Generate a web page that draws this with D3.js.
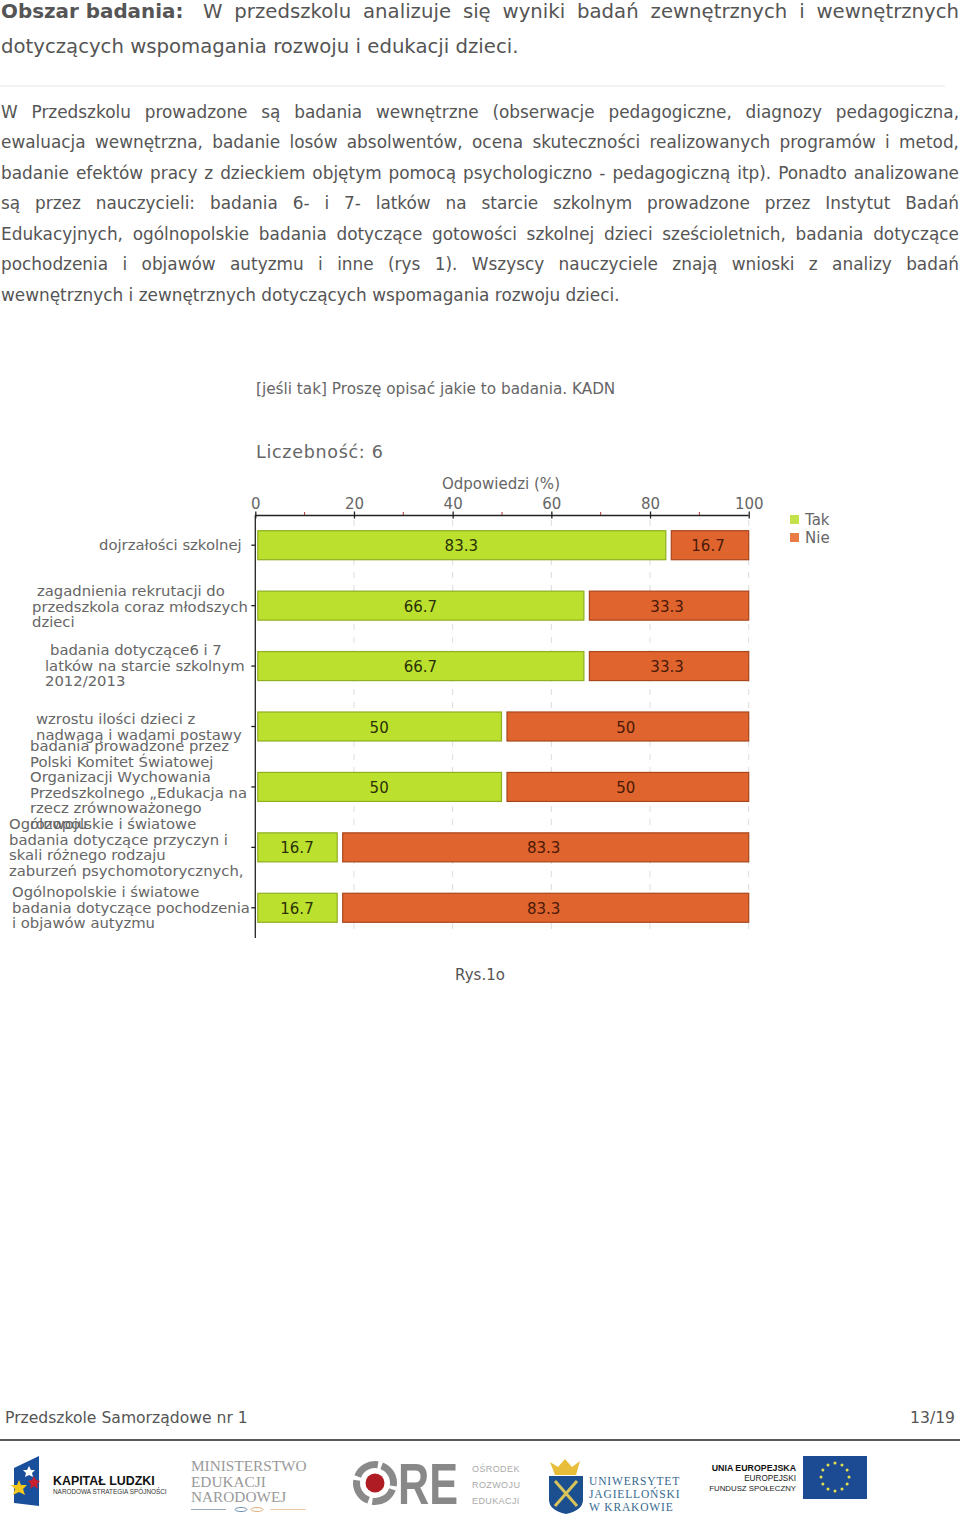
<!DOCTYPE html>
<html><head><meta charset="utf-8">
<script src="https://cdnjs.cloudflare.com/ajax/libs/d3/7.8.5/d3.min.js"></script>
<style>html,body{margin:0;padding:0;background:#fff;overflow:hidden}svg{display:block}text{font-family:"DejaVu Sans",sans-serif}</style>
</head><body><svg id="c" width="960" height="1528"></svg>
<script>
const categories=["dojrzałości szkolnej","zagadnienia rekrutacji do przedszkola","badania dotyczące 6 i 7 latków","wzrostu ilości dzieci","Polski Komitet Światowej","przyczyn zaburzeń","pochodzenia i objawów autyzmu"];
const takValues=[83.3,66.7,66.7,50,50,16.7,16.7];
const nieValues=[16.7,33.3,33.3,50,50,83.3,83.3];
const seriesNames=["Tak","Nie"];
const majorTicks=[0,20,40,60,80,100];
const minorTicks=[10,30,50,70,90];
const labelLines=[
 [["dojrzałości szkolnej",99]],
 [["zagadnienia rekrutacji do",37],["przedszkola coraz młodszych",32],["dzieci",32]],
 [["badania dotyczące6 i 7",50],["latków na starcie szkolnym",45],["2012/2013",45]],
 [["wzrostu ilości dzieci z",36],["nadwagą i wadami postawy",36]],
 [["badania prowadzone przez",30],["Polski Komitet Światowej",30],["Organizacji Wychowania",30],["Przedszkolnego „Edukacja na",30],["rzecz zrównoważonego",30],["rozwoju",30]],
 [["Ogólnopolskie i światowe",9],["badania dotyczące przyczyn i",9],["skali różnego rodzaju",9],["zaburzeń psychomotorycznych,",9]],
 [["Ogólnopolskie i światowe",12],["badania dotyczące pochodzenia",12],["i objawów autyzmu",12]]
];
const labelTop=[550,596,655,724,751,829,897];
const headerLines=["W przedszkolu analizuje się wyniki badań zewnętrznych i wewnętrznych"];
const paragraphLines=[
 "W Przedszkolu prowadzone są badania wewnętrzne (obserwacje pedagogiczne, diagnozy pedagogiczna,",
 "ewaluacja wewnętrzna, badanie losów absolwentów, ocena skuteczności realizowanych programów i metod,",
 "badanie efektów pracy z dzieckiem objętym pomocą psychologiczno - pedagogiczną itp). Ponadto analizowane",
 "są przez nauczycieli: badania 6- i 7- latków na starcie szkolnym prowadzone przez Instytut Badań",
 "Edukacyjnych, ogólnopolskie badania dotyczące gotowości szkolnej dzieci sześcioletnich, badania dotyczące",
 "pochodzenia i objawów autyzmu i inne (rys 1). Wszyscy nauczyciele znają wnioski z analizy badań",
 "wewnętrznych i zewnętrznych dotyczących wspomagania rozwoju dzieci."];
const paragraphY=[118,148,179,209,240,270,301];

const svg=d3.select("#c");
const TXT="#555";
function justified(s,x0,x1,y,size,col){
  const t=svg.append("text").attr("x",x0).attr("y",y).attr("font-size",size).attr("fill",col).text(s);
  if(x1){const w=t.node().getComputedTextLength(),n=s.split(" ").length-1;t.style("word-spacing",((x1-x0-w)/n)+"px");}
  return t;
}
// header
svg.append("text").attr("x",1).attr("y",18).attr("font-size",19.9).attr("font-weight","bold").attr("fill",TXT).text("Obszar badania:");
justified(headerLines[0],203,959,18,19.7,TXT);
justified("dotyczących wspomagania rozwoju i edukacji dzieci.",1,null,53,19.7,TXT);
svg.append("line").attr("x1",0).attr("x2",945).attr("y1",86).attr("y2",86).attr("stroke","#eee").attr("stroke-width",1.5);
paragraphLines.forEach((s,i)=>justified(s,1,i<6?959:null,paragraphY[i],16.9,TXT));

// chart
const xScale=d3.scaleLinear().domain([0,100]).range([255.3,748.7]);
const yScale=d3.scaleBand().domain(categories).range([515,938]).paddingInner(0.52).paddingOuter(0.26);
const g=svg.append("g");
const LBL="#666";
g.append("text").attr("x",256).attr("y",394).attr("font-size",15.25).attr("fill",LBL).text("[jeśli tak] Proszę opisać jakie to badania. KADN");
g.append("text").attr("x",256).attr("y",458).attr("font-size",17.5).attr("fill",LBL).attr("letter-spacing",0.7).text("Liczebność: 6");
g.append("text").attr("x",501).attr("y",489).attr("text-anchor","middle").attr("font-size",15).attr("fill",LBL).text("Odpowiedzi (%)");
// grid
g.selectAll(".grid").data(majorTicks.slice(1)).join("line").attr("class","grid")
 .attr("x1",d=>xScale(d)).attr("x2",d=>xScale(d)).attr("y1",520).attr("y2",936)
 .attr("stroke","#ddd").attr("stroke-dasharray","6 7");
// axes
const topAxis=d3.axisTop(xScale).tickValues(majorTicks).tickSize(4).tickFormat(d3.format("d"));
const ax=g.append("g").attr("transform","translate(0,515.5)").call(topAxis);
ax.select(".domain").attr("stroke","#222").attr("stroke-width",1.3).attr("d",`M${xScale(0)},0H${xScale(100)}`);
ax.selectAll(".tick line").attr("stroke","#222").attr("stroke-width",1.3).attr("y1",3);
ax.selectAll(".tick text").attr("font-size",15).attr("fill",LBL).attr("font-family","DejaVu Sans").attr("y",-7);
g.selectAll(".minor").data(minorTicks).join("line").attr("class","minor")
 .attr("x1",d=>xScale(d)).attr("x2",d=>xScale(d)).attr("y1",512).attr("y2",515).attr("stroke","#a33").attr("stroke-width",1);
const leftAxis=d3.axisLeft(yScale).tickSize(4).tickFormat("");
const ay=g.append("g").attr("transform",`translate(${xScale(0)},0)`).call(leftAxis);
ay.select(".domain").attr("stroke","#222").attr("stroke-width",1.3).attr("d","M0,515V938");
ay.selectAll(".tick line").attr("stroke","#222").attr("stroke-width",1.3);
// bars
const TAK="#bce02e",NIE="#e0642d";
const rows=categories.map((c,i)=>({c,tak:takValues[i],nie:nieValues[i]}));
const bh=yScale.bandwidth();
g.selectAll(".tak").data(rows).join("rect").attr("class","tak")
 .attr("x",xScale(0)+2.5).attr("y",d=>yScale(d.c)).attr("height",bh)
 .attr("width",d=>xScale(d.tak)-xScale(0)-3).attr("fill",TAK).attr("stroke","#8fae22").attr("stroke-width",1.2);
g.selectAll(".nie").data(rows).join("rect").attr("class","nie")
 .attr("x",d=>xScale(d.tak)+5).attr("y",d=>yScale(d.c)).attr("height",bh)
 .attr("width",d=>xScale(100)-xScale(d.tak)-5).attr("fill",NIE).attr("stroke","#a9461c").attr("stroke-width",1.2);
g.selectAll(".lt").data(rows).join("text").attr("class","lt")
 .attr("x",d=>(xScale(0)+1+xScale(d.tak))/2).attr("y",d=>yScale(d.c)+bh/2+6).attr("text-anchor","middle")
 .attr("font-size",15).attr("fill","#2a3208").text(d=>d.tak);
g.selectAll(".ln").data(rows).join("text").attr("class","ln")
 .attr("x",d=>(xScale(d.tak)+1+xScale(100))/2).attr("y",d=>yScale(d.c)+bh/2+6).attr("text-anchor","middle")
 .attr("font-size",15).attr("fill","#4a1a08").text(d=>d.nie);
// category labels
labelLines.forEach((ls,i)=>{
  ls.forEach((l,j)=>g.append("text").attr("x",l[1]).attr("y",labelTop[i]+j*15.6)
    .attr("font-size",14.8).attr("fill",LBL).text(l[0]));
});
// legend
const lg=g.selectAll(".lg").data(seriesNames).join("g").attr("class","lg").attr("transform",(d,i)=>`translate(790,${515+i*18})`);
lg.append("rect").attr("width",9).attr("height",9).attr("fill",(d,i)=>i?"#e97b47":"#c3e24a");
lg.append("text").attr("x",15).attr("y",10).attr("font-size",15).attr("fill",LBL).text(d=>d);
svg.append("text").attr("x",480).attr("y",980).attr("text-anchor","middle").attr("font-size",15).attr("fill",TXT).text("Rys.1o");

// footer
svg.append("text").attr("x",5).attr("y",1423).attr("font-size",15.6).attr("fill",TXT).text("Przedszkole Samorządowe nr 1");
svg.append("text").attr("x",955).attr("y",1423).attr("text-anchor","end").attr("font-size",15.6).attr("fill",TXT).text("13/19");
svg.append("line").attr("x1",0).attr("x2",960).attr("y1",1440).attr("y2",1440).attr("stroke","#222").attr("stroke-width",1.6);
// logos
const f=svg.append("g");
f.append("path").attr("d","M14 1468L39 1456V1506L14 1503Z").attr("fill","#1a4f9c");
f.append("path").attr("d","M29 1466l2 4 4 0-3 3 1 4-4-2-4 2 1-4-3-3 4 0z").attr("fill","#fff");
f.append("path").attr("d","M19 1480l2 5 6 0-4 4 2 6-6-3-6 3 2-6-4-4 6 0z").attr("fill","#f2c81e");
f.append("path").attr("d","M34 1476l2 4 4 1-3 3 1 5-4-3-4 3 1-5-3-3 4-1z").attr("fill","#c8202f");
f.append("text").attr("x",53).attr("y",1485).style("font-family","Liberation Sans").attr("font-weight","bold").attr("font-size",12.4).attr("fill","#111").text("KAPITAŁ LUDZKI");
f.append("text").attr("x",53).attr("y",1494).style("font-family","Liberation Sans").attr("font-size",6.4).attr("fill","#333").text("NARODOWA STRATEGIA SPÓJNOŚCI");
["MINISTERSTWO","EDUKACJI","NARODOWEJ"].forEach((s,i)=>f.append("text").attr("x",191).attr("y",1471+i*15.5).style("font-family","Liberation Serif").attr("font-size",15.3).attr("fill","#999").text(s));
f.append("line").attr("x1",191).attr("x2",226).attr("y1",1509.5).attr("y2",1509.5).attr("stroke","#9ab");
f.append("line").attr("x1",270).attr("x2",306).attr("y1",1509.5).attr("y2",1509.5).attr("stroke","#ecc9a8");
f.append("ellipse").attr("cx",241).attr("cy",1509.5).attr("rx",6).attr("ry",2).attr("fill","none").attr("stroke","#6f8fb0");
f.append("ellipse").attr("cx",257).attr("cy",1509.5).attr("rx",6).attr("ry",2).attr("fill","none").attr("stroke","#e0b080");
f.append("circle").attr("cx",375).attr("cy",1483).attr("r",18.5).attr("fill","none").attr("stroke","#8a8a8a").attr("stroke-width",7).attr("stroke-dasharray","25 4").attr("transform","rotate(20 375 1483)");
f.append("circle").attr("cx",375).attr("cy",1483).attr("r",9.5).attr("fill","#b01c24");
f.append("text").attr("x",398).attr("y",1504).style("font-family","Liberation Sans").attr("font-weight","bold").attr("font-size",57).attr("fill","#888").attr("textLength",60).attr("lengthAdjust","spacingAndGlyphs").text("RE");
["OŚRODEK","ROZWOJU","EDUKACJI"].forEach((s,i)=>f.append("text").attr("x",472).attr("y",1472+i*16).style("font-family","Liberation Sans").attr("font-size",9).attr("letter-spacing",0.4).attr("fill","#aaa").text(s));
f.append("path").attr("d","M549 1476H583V1500Q583 1510 566 1514Q549 1510 549 1500Z").attr("fill","#1b4f8f");
f.append("path").attr("d","M550 1462l8 5 7-8 7 8 8-6-4 14H555Z").attr("fill","#e7bd3a");
f.append("path").attr("d","M555 1481L577 1506M577 1481L555 1506").attr("stroke","#d8c45a").attr("stroke-width",3);
["UNIWERSYTET","JAGIELLOŃSKI","W KRAKOWIE"].forEach((s,i)=>f.append("text").attr("x",589).attr("y",1485+i*13).style("font-family","Liberation Serif").attr("font-size",11.5).attr("letter-spacing",0.85).attr("fill","#36688f").text(s));
f.append("text").attr("x",796).attr("y",1471).attr("text-anchor","end").style("font-family","Liberation Sans").attr("font-weight","bold").attr("font-size",8.8).attr("fill","#111").text("UNIA EUROPEJSKA");
f.append("text").attr("x",796).attr("y",1481).attr("text-anchor","end").style("font-family","Liberation Sans").attr("font-size",8.2).attr("fill","#222").text("EUROPEJSKI");
f.append("text").attr("x",796).attr("y",1491).attr("text-anchor","end").style("font-family","Liberation Sans").attr("font-size",7.8).attr("fill","#222").text("FUNDUSZ SPOŁECZNY");
f.append("rect").attr("x",803).attr("y",1456).attr("width",64).attr("height",43).attr("fill","#1d4b93");
d3.range(12).forEach(i=>{const a=i*Math.PI/6;f.append("circle").attr("cx",835+14*Math.cos(a)).attr("cy",1477+14*Math.sin(a)).attr("r",1.5).attr("fill","#e8e04a");});
</script></body></html>
